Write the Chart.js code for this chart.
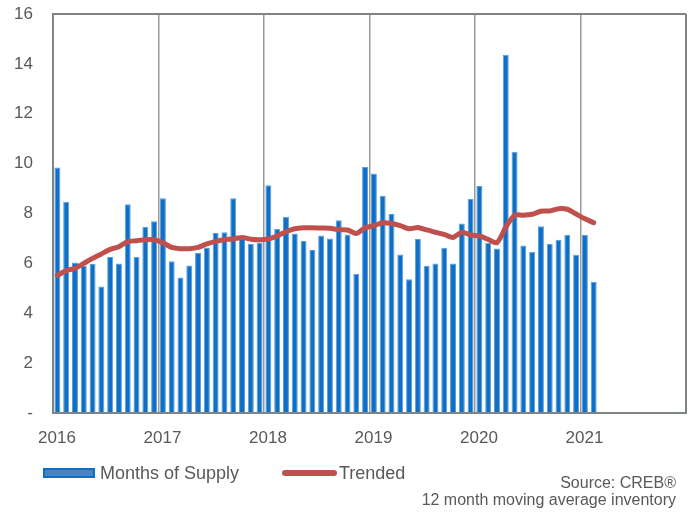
<!DOCTYPE html>
<html>
<head>
<meta charset="utf-8">
<script src="https://cdn.jsdelivr.net/npm/chart.js@4/dist/chart.umd.min.js"></script>
<style>
  html, body { margin:0; padding:0; background:#fff; }
  #wrap { position:relative; width:694px; height:512px; font-family:"Liberation Sans", Arial, sans-serif; color:#595959; }
  #c { position:absolute; left:0; top:0; }
  .lg { position:absolute; font-size:18px; line-height:20px; white-space:nowrap; }
  .src { position:absolute; right:18px; top:474px; font-size:16px; line-height:17px; text-align:right; }
</style>
</head>
<body>
<div id="wrap">
  <canvas id="c" width="694" height="512"></canvas>
  <div style="position:absolute;left:43px;top:468px;width:48px;height:6px;border:2px solid #0F6FC6;background:#4F81BD;"></div>
  <div class="lg" style="left:100px;top:463px;">Months of Supply</div>
  <div style="position:absolute;left:282px;top:470px;width:55px;height:6px;border-radius:3px;background:#C0504D;"></div>
  <div class="lg" style="left:339px;top:463px;">Trended</div>
  <div class="src">Source: CREB®<br>12 month moving average inventory</div>
</div>
<script>
// tick labels on the x axis (one per year)
const YEARS = [2016, 2017, 2018, 2019, 2020, 2021, 2022];

// months of supply, Jan 2016 .. Feb 2021
const SUPPLY = [
  9.84, 8.47, 6.04, 5.90, 5.97, 5.07, 6.26, 6.00, 8.37, 6.26, 7.47, 7.69,
  8.61, 6.09, 5.43, 5.91, 6.42, 6.64, 7.23, 7.25, 8.61, 6.99, 6.78, 6.84,
  9.13, 7.38, 7.87, 7.20, 6.90, 6.54, 7.12, 7.00, 7.73, 7.16, 5.57, 9.86,
  9.60, 8.71, 7.98, 6.36, 5.36, 6.98, 5.89, 6.00, 6.63, 6.00, 7.60, 8.58,
  9.10, 6.83, 6.60, 14.37, 10.48, 6.72, 6.47, 7.49, 6.78, 6.95, 7.15, 6.35,
  7.15, 5.25
];

// trended (12 month moving average)
const TRENDED = [
  5.52, 5.71, 5.80, 6.00, 6.20, 6.38, 6.56, 6.67, 6.87, 6.91, 6.95, 6.95,
  6.83, 6.64, 6.59, 6.59, 6.64, 6.78, 6.88, 6.96, 6.98, 7.04, 6.97, 6.95,
  6.98, 7.10, 7.27, 7.39, 7.43, 7.43, 7.42, 7.41, 7.35, 7.34, 7.20, 7.43,
  7.51, 7.63, 7.60, 7.51, 7.39, 7.44, 7.34, 7.25, 7.16, 7.04, 7.25, 7.14,
  7.10, 6.96, 6.83, 7.45, 7.93, 7.93, 7.97, 8.09, 8.10, 8.19, 8.17, 7.98,
  7.79, 7.63
];

const Y_TICKS = [0, 2, 4, 6, 8, 10, 12, 14, 16];

const FRAME = '#7F8582';
const GRID = '#999999';
const TXT = '#595959';
const FONT = { family: '"Liberation Sans", Arial, sans-serif', size: 17 };

// month index -> x value (bars sit in the middle of their month)
const pts = arr => arr.map((v, i) => ({ x: i + 0.5, y: v }));
const xMax = (YEARS.length - 1) * 12;

new Chart(document.getElementById('c').getContext('2d'), {
  type: 'bar',
  data: {
    datasets: [
      {
        type: 'line',
        label: 'Trended',
        data: pts(TRENDED),
        borderColor: '#C0504D',
        borderWidth: 5,
        pointRadius: 0,
        tension: 0.25,
        borderCapStyle: 'round',
        borderJoinStyle: 'round',
        order: 0
      },
      {
        label: 'Months of Supply',
        data: pts(SUPPLY),
        backgroundColor: '#0F6FC6',
        borderColor: '#5B9FDB',
        borderWidth: 1,
        barPercentage: 0.68,
        categoryPercentage: 1,
        order: 1
      }
    ]
  },
  options: {
    responsive: false,
    animation: false,
    layout: { padding: { top: 14, right: 8, bottom: 64, left: 0 } },
    plugins: { legend: { display: false }, tooltip: { enabled: false } },
    scales: {
      x: {
        type: 'linear',
        min: 0,
        max: xMax,
        offset: false,
        afterBuildTicks: s => { s.ticks = YEARS.map((y, i) => ({ value: i * 12 })); },
        afterFit: s => { s.height = 35; s.paddingLeft = 0; s.paddingRight = 0; },
        ticks: {
          color: TXT,
          font: FONT,
          padding: 15,
          labelOffset: 4,
          maxRotation: 0,
          autoSkip: false,
          callback: v => (v === xMax ? '' : String(YEARS[v / 12]))
        },
        grid: {
          offset: false,
          drawTicks: false,
          color: c => (c.tick && (c.tick.value === 0 || c.tick.value === xMax) ? FRAME : GRID),
          lineWidth: c => (c.tick && (c.tick.value === 0 || c.tick.value === xMax) ? 2 : 1.5)
        },
        border: { color: FRAME, width: 2 }
      },
      y: {
        min: 0,
        max: 16,
        afterBuildTicks: s => { s.ticks = Y_TICKS.map(v => ({ value: v })); },
        afterFit: s => { s.width = 53; s.paddingTop = 0; s.paddingBottom = 0; },
        ticks: {
          color: TXT,
          font: FONT,
          padding: 20,
          callback: v => (v === 0 ? '-' : String(v))
        },
        grid: {
          drawTicks: false,
          color: c => (c.tick && c.tick.value === 16 ? FRAME : 'rgba(0,0,0,0)'),
          lineWidth: 2
        },
        border: { color: FRAME, width: 2 }
      }
    }
  }
});
</script>
</body>
</html>
